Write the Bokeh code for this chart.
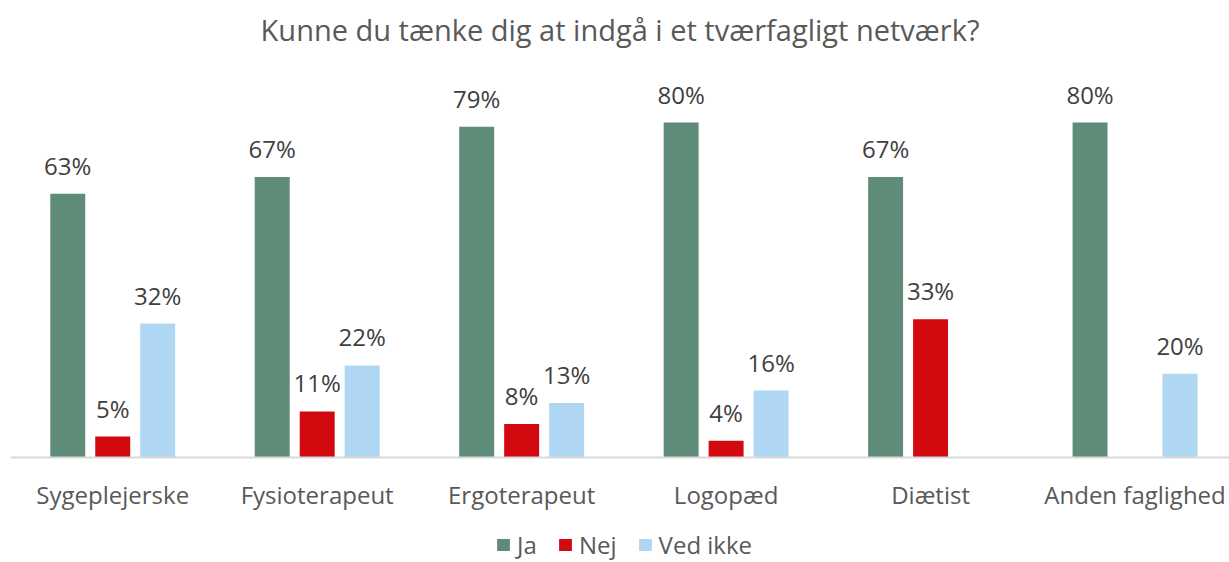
from bokeh.plotting import figure
from bokeh.models import ColumnDataSource, Legend, LegendItem, LabelSet, Range1d, Span
from bokeh.core.properties import value
from bokeh.embed import file_html
from bokeh.resources import INLINE

categories = ["Sygeplejerske", "Fysioterapeut", "Ergoterapeut", "Logopæd", "Diætist", "Anden faglighed"]
ja = [63, 67, 79, 80, 67, 80]
nej = [5, 11, 8, 4, 33, None]
ved_ikke = [32, 22, 13, 16, None, 20]
series_names = ["Ja", "Nej", "Ved ikke"]
series_values = [ja, nej, ved_ikke]
colors = ["#5F8C78", "#D2090F", "#AFD7F3"]

title_text = "Kunne du tænke dig at indgå i et tværfagligt netværk?"
FONT = "Open Sans"

W, H = 1229, 562
p = figure(width=W, height=H, output_backend="svg", toolbar_location=None,
           x_range=Range1d(0.0, 5.962), y_range=Range1d(-25.07, 97.2),
           min_border_left=10, min_border_right=0, min_border_top=50, min_border_bottom=0,
           title=title_text)
p.title.align = "center"
p.title.text_font = FONT
p.title.text_font_size = "29px"
p.title.text_font_style = "normal"
p.title.text_color = "#595959"
p.title.standoff = 4

offset = 0.22
bw = 0.171
items = []
for k, (name, vals, col) in enumerate(zip(series_names, series_values, colors)):
    xs, ys, labels = [], [], []
    for i, v in enumerate(vals):
        if v is None:
            continue
        xs.append(i + 0.5 + (k - 1) * offset)
        ys.append(v)
        labels.append(f"{v}%")
    src = ColumnDataSource(dict(x=xs, top=ys, label=labels))
    r = p.vbar(x="x", top="top", width=bw, bottom=0, source=src, fill_color=col, line_color=None)
    items.append(LegendItem(label=name, renderers=[r]))
    ls = LabelSet(x="x", y="top", text="label", source=src, y_offset=19,
                  text_align="center", text_baseline="alphabetic",
                  text_font=value(FONT), text_font_size="24px", text_color="#404040")
    p.add_layout(ls)

# category axis: baseline and labels
p.add_layout(Span(location=0, dimension="width", line_color="#D9D9D9", line_width=2))
cat_src = ColumnDataSource(dict(x=[i + 0.5 for i in range(len(categories))], y=[0] * len(categories), label=categories))
p.add_layout(LabelSet(x="x", y="y", text="label", source=cat_src, y_offset=-46,
                      text_align="center", text_baseline="alphabetic",
                      text_font=value(FONT), text_font_size="24px", text_color="#595959"))

p.xaxis.visible = False
p.yaxis.visible = False
p.xgrid.visible = False
p.ygrid.visible = False
p.outline_line_color = None

legend = Legend(items=items, orientation="horizontal", location=(485, 1),
                glyph_width=16, glyph_height=15, label_standoff=6, spacing=20,
                padding=0, margin=0, border_line_color=None, background_fill_alpha=0,
                label_text_font=FONT, label_text_font_size="24px", label_text_color="#595959")
p.add_layout(legend, "center")

open("out.html", "w").write(file_html(p, INLINE))
